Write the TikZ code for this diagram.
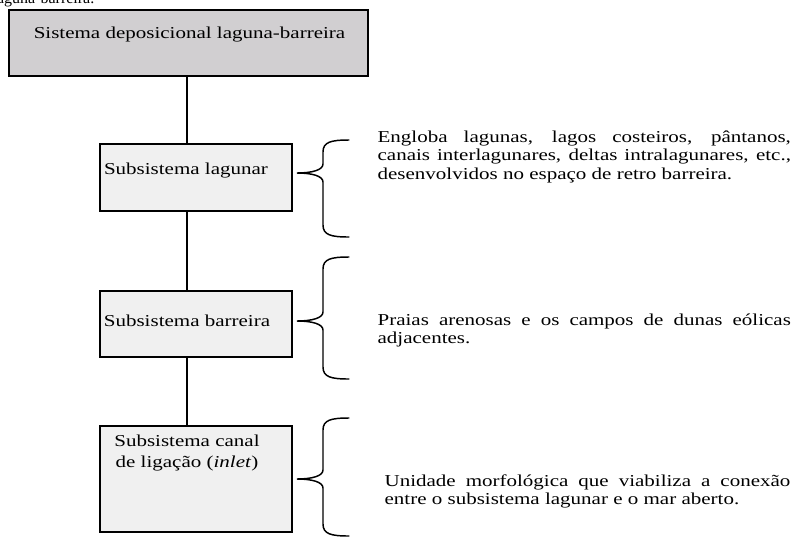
\documentclass[tikz,border=0pt]{standalone}
\usepackage{fontspec}
\setmainfont{Liberation Serif}
\usepackage{graphicx}
\usepackage{tikz}
\usetikzlibrary{calc}
\definecolor{cinza}{RGB}{209, 207, 209}
\definecolor{claro}{RGB}{240, 240, 240}
\newcommand{\esticar}[1]{\scalebox{1.26}[1]{#1}}
\newcommand{\chave}[3]{%
  \draw[line width=1.1pt, line cap=round]
    (349, #1) .. controls (331, #1) and (323, #1+2) .. (323, #1+12)
    -- (323, #2-9) .. controls (323, #2-3) and (312, #2) .. (297, #2)
    .. controls (312, #2) and (323, #2+3) .. (323, #2+9)
    -- (323, #3-12) .. controls (323, #3-2) and (331, #3) .. (349, #3);}

\begin{document}
\begin{tikzpicture}[x=0.75pt, y=-0.75pt, line width=1pt,
    font=\fontsize{12.5}{14.2}\selectfont,
    caixa/.style={draw, fill=claro, inner sep=0, minimum width=144pt},
    rotulo/.style={inner sep=0, anchor=base},
    texto/.style={inner sep=0, anchor=base west}]
  \useasboundingbox (0, 0) rectangle (794, 537);

  % titulo cortado no topo
  \node[rotulo, anchor=base east, font=\fontsize{12}{13}\selectfont] (frag) at (95, 3.5) {laguna-barreira.};

  % caixas
  \node[caixa, fill=cinza, minimum width=269.25pt, minimum height=49.5pt] (sys) at (188.5, 43) {};
  \node[caixa, minimum height=50.25pt] (lag) at (196, 177.5) {};
  \node[caixa, minimum height=49.5pt] (bar) at (196, 324) {};
  \node[caixa, minimum height=79.5pt] (inl) at (196, 479) {};
  \coordinate (eixo) at (187, 0);

  \node[rotulo] (systxt) at (189.5, 38) {\esticar{Sistema deposicional laguna-barreira}};
  \node[rotulo] (lagtxt) at (186, 174) {\esticar{Subsistema lagunar}};
  \node[rotulo] (bartxt) at (187, 326) {\esticar{Subsistema barreira}};
  \node[rotulo, anchor=north] (inltxt) at (187, 433)
    {\esticar{\begin{tabular}{@{}c@{}}Subsistema canal\\[1pt]de ligação (\textit{inlet})\end{tabular}}};

  % ligacoes
  \draw (sys.south -| eixo) -- (lag.north -| eixo);
  \draw (lag.south -| eixo) -- (bar.north -| eixo);
  \draw (bar.south -| eixo) -- (inl.north -| eixo);

  % chaves
  \chave{140}{173}{237}
  \chave{257}{321}{379}
  \chave{418}{479}{536}

  % descricoes
  \node[texto] (lagdesc) at (377, 142) {\esticar{\parbox[t]{246pt}{Engloba lagunas, lagos costeiros, pântanos,\linebreak
    canais interlagunares, deltas intralagunares, etc.,\linebreak
    desenvolvidos no espaço de retro barreira.}}};
  \node[texto] (bardesc) at (377, 325) {\esticar{\parbox[t]{246pt}{Praias arenosas e os campos de dunas eólicas\linebreak
    adjacentes.}}};
  \node[texto] (inldesc) at (384, 486) {\esticar{\parbox[t]{241.5pt}{Unidade morfológica que viabiliza a conexão\linebreak
    entre o subsistema lagunar e o mar aberto.}}};
\end{tikzpicture}
\end{document}
